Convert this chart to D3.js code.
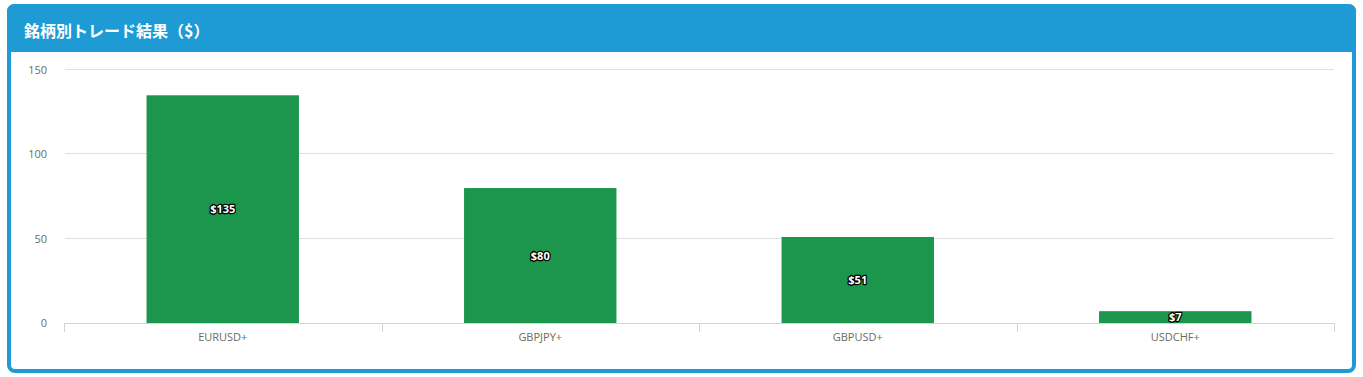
<!DOCTYPE html>
<html>
<head>
<meta charset="utf-8">
<script src="https://d3js.org/d3.v7.min.js"></script>
<style>
body { margin: 0; background: #fff; font-family: "Noto Sans CJK JP", "Open Sans", sans-serif; }
.grid line { stroke: #e0e0e0; }
.yaxis text, .xaxis text { fill: #6b6b5e; font-size: 11px; font-family: "Open Sans", "Noto Sans", sans-serif; }
.xaxis path, .xaxis line { stroke: #ccd6db; }
.vlabel { font-family: "Open Sans", sans-serif; font-weight: bold; font-size: 11px; fill: #fff; stroke: #000; stroke-width: 2.5px; paint-order: stroke; stroke-linejoin: round; }
</style>
</head>
<body>
<div id="chart"></div>
<script>
var symbols = ["EURUSD+", "GBPJPY+", "GBPUSD+", "USDCHF+"];
var profits = [135, 80, 51, 7];
var yTicks = [0, 50, 100, 150];
var title = "銘柄別トレード結果（$）";

var W = 1363, H = 377;
var svg = d3.select("#chart").append("svg").attr("width", W).attr("height", H);

// panel with blue border and header
svg.append("rect").attr("x", 9).attr("y", 6).attr("width", 1345).attr("height", 365)
  .attr("rx", 6).attr("fill", "#fff").attr("stroke", "#1e9bd5").attr("stroke-width", 4);
svg.append("path")
  .attr("d", "M7,52 L7,12 Q7,4 15,4 L1348,4 Q1356,4 1356,12 L1356,52 Z")
  .attr("fill", "#1e9bd5");
svg.append("text").attr("x", 24).attr("y", 37).text(title)
  .attr("fill", "#fff").attr("font-size", "16px").attr("font-weight", "bold")
  .attr("font-family", "'Noto Sans CJK JP', sans-serif");

var plotLeft = 64, plotRight = 1334, plotTop = 70, plotBottom = 323;
var x = d3.scaleBand().domain(symbols).range([plotLeft, plotRight]).paddingInner(0.52).paddingOuter(0.26);
var y = d3.scaleLinear().domain([0, 150]).range([plotBottom, plotTop]);

svg.append("g").attr("class", "grid")
  .selectAll("line").data(yTicks.filter(function(d) { return d > 0; })).enter().append("line")
  .attr("x1", plotLeft + 1).attr("x2", plotRight)
  .attr("y1", function(d) { return Math.round(y(d)) - 0.5; }).attr("y2", function(d) { return Math.round(y(d)) - 0.5; });

var yAxis = svg.append("g").attr("class", "yaxis")
  .attr("transform", "translate(" + (plotLeft - 14) + ",0)")
  .call(d3.axisLeft(y).tickValues(yTicks).tickSize(0));
yAxis.select(".domain").remove();

svg.selectAll("rect.bar").data(profits).enter().append("rect").attr("class", "bar")
  .attr("x", function(d, i) { return x(symbols[i]); })
  .attr("width", x.bandwidth())
  .attr("y", function(d) { return y(d); })
  .attr("height", function(d) { return plotBottom - y(d); })
  .attr("fill", "#1b964c");

svg.selectAll("text.vlabel").data(profits).enter().append("text").attr("class", "vlabel")
  .attr("x", function(d, i) { return x(symbols[i]) + x.bandwidth() / 2; })
  .attr("y", function(d) { return (y(d) + plotBottom) / 2 + 4; })
  .attr("text-anchor", "middle")
  .text(function(d) { return "$" + d; });

// x axis with ticks between categories
var xg = svg.append("g").attr("class", "xaxis");
xg.append("line").attr("x1", plotLeft).attr("x2", plotRight).attr("y1", plotBottom + 0.5).attr("y2", plotBottom + 0.5);
var step = (plotRight - plotLeft) / symbols.length;
d3.range(symbols.length + 1).forEach(function(i) {
  var xx = Math.round(plotLeft + i * step) + 0.5;
  xg.append("line").attr("x1", xx).attr("x2", xx).attr("y1", plotBottom).attr("y2", plotBottom + 9);
});
xg.selectAll("text").data(symbols).enter().append("text")
  .attr("x", function(d) { return x(d) + x.bandwidth() / 2; })
  .attr("y", 341).attr("text-anchor", "middle").text(function(d) { return d; });
</script>
</body>
</html>
